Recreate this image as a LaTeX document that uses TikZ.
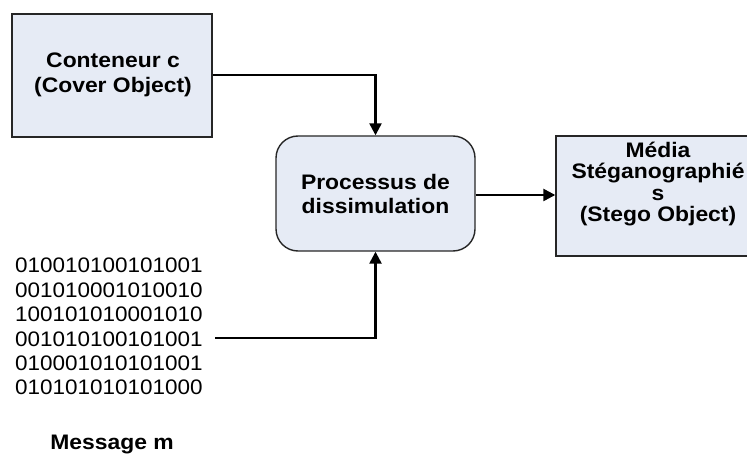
\documentclass[tikz,border=0pt]{standalone}
\usepackage{fontspec}
\setmainfont{Liberation Sans}
\newfontfamily\bitsfont[FakeStretch=1.07]{Liberation Sans}
\newfontfamily\lblfont[FakeStretch=1.09]{Liberation Sans}
\usetikzlibrary{arrows.meta}
\definecolor{boxfill}{HTML}{E6EBF5}
\tikzset{
  blockbox/.style={draw=black!85, line width=1.4pt, fill=boxfill, inner sep=0pt},
  lbl/.style={font=\lblfont\bfseries\fontsize{21}{24.5}\selectfont, align=center},
  flow/.style={line width=2.4pt, -{Triangle[length=12pt,width=12pt]}},
  bits/.style={font=\bitsfont\fontsize{21}{24.4}\selectfont, align=left, anchor=north west, inner sep=0pt}
}
\begin{document}
\begin{tikzpicture}[x=1pt,y=-1pt]
  \useasboundingbox (0,0) rectangle (747,454);
  \clip (0,0) rectangle (747,454);
  % cover object
  \node[blockbox, minimum width=200pt, minimum height=123pt] (cover) at (112,75.5) {};
  \node[lbl] (covertxt) at (113,75) {Conteneur c\\(Cover Object)};
  % embedding process
  \node[blockbox, rounded corners=22pt, minimum width=199pt, minimum height=115pt] (proc) at (375.5,193.5) {};
  \node[lbl] (proctxt) at (375.5,194) {Processus de\\dissimulation};
  % stego object
  \node[blockbox, minimum width=210pt, minimum height=120pt] (stego) at (661,196) {};
  \node[lbl, font=\lblfont\bfseries\fontsize{21}{21.5}\selectfont] (stegotxt) at (658,184) {Média\\Stéganographié\\s\\(Stego Object)};
  % secret message bits
  \node[bits] (msg) at (15,258) {010010100101001\\001010001010010\\100101010001010\\001010100101001\\010001010101001\\010101010101000};
  \node[lbl, anchor=base] (msglbl) at (112,449) {Message m};
  \coordinate (msgout) at (215,338);
  % connectors
  \draw[flow] (cover.east |- 0,75) -| (proc.north);
  \draw[flow] (msgout) -| (proc.south);
  \draw[flow] (proc.east |- 0,195) -- (stego.west |- 0,195);
\end{tikzpicture}
\end{document}
